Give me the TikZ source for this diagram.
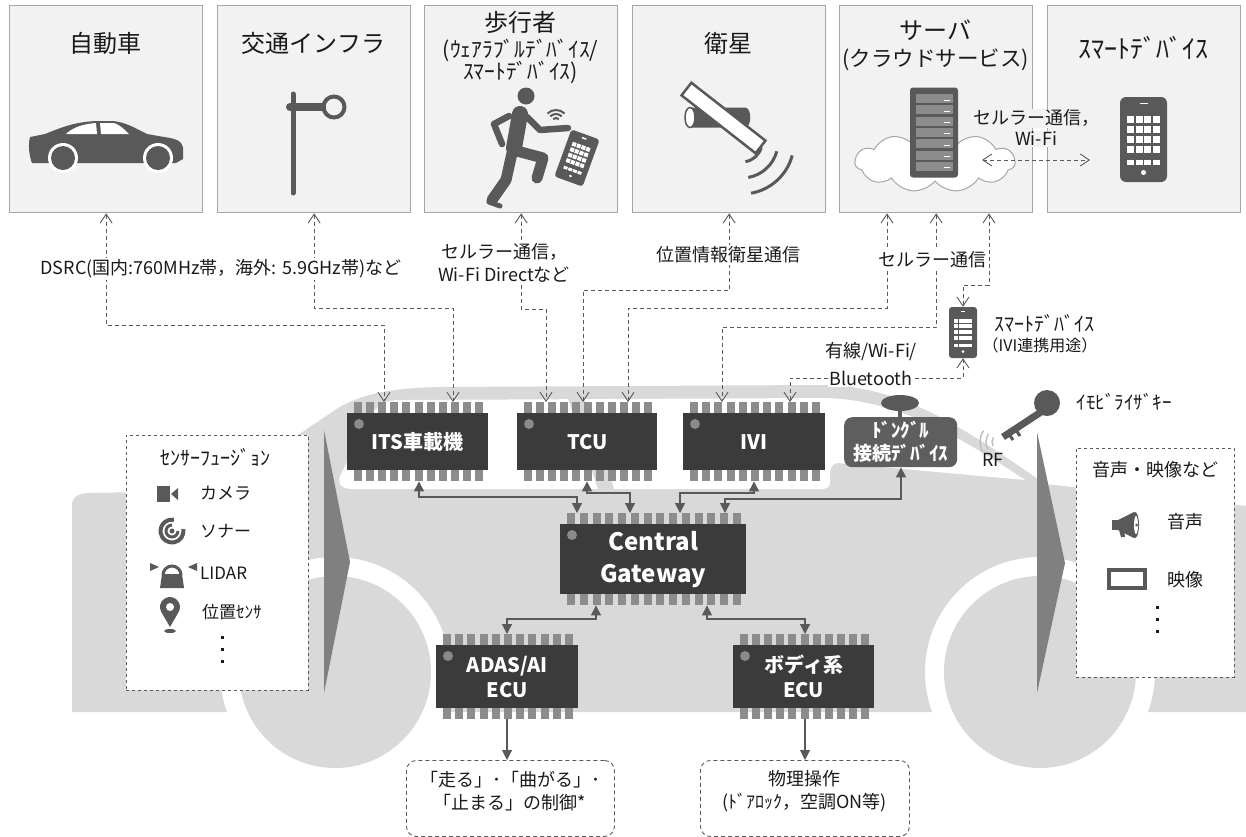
\documentclass[tikz,border=0pt]{standalone}
\usepackage{fontspec}
\setmainfont{Noto Sans CJK JP}
\usetikzlibrary{arrows.meta,shapes.symbols}
\definecolor{boxfill}{HTML}{F2F2F2}
\definecolor{boxline}{HTML}{A6A6A6}
\definecolor{txt}{HTML}{1A1A1A}
\definecolor{icon}{HTML}{595959}
\definecolor{conn}{HTML}{595959}
\definecolor{carbg}{HTML}{D9D9D9}
\definecolor{wedge}{HTML}{808080}
\definecolor{chipc}{HTML}{3B3B3B}
\definecolor{pinc}{HTML}{8C8C8C}
\definecolor{dotc}{HTML}{8A8A8A}
\definecolor{dongc}{HTML}{5E5E5E}
\definecolor{rfc}{HTML}{BFBFBF}

% chip: name, left, top of body, width, height, pins per side, label, extra options
\newcommand\mychip[8]{%
  \pgfmathsetmacro\pinstep{(#4-20)/(#6-1)}%
  \pgfmathtruncatemacro\lastpin{#6-1}%
  \foreach \i in {0,...,\lastpin}{%
    \fill[pinc] ({#2+7+\i*\pinstep},{#3-11}) rectangle ++(8,11);
    \fill[pinc] ({#2+7+\i*\pinstep},{#3+#5}) rectangle ++(8,11);
  }%
  \node[chipbody, minimum width=#4pt, minimum height=#5pt, anchor=north west, #8] (#1) at (#2,#3) {#7};
  \fill[dotc] ({#2+12},{#3+11}) circle (5);
  \node[inner sep=0pt, minimum width=#4pt, minimum height={#5pt+22pt}, anchor=north west] (#1p) at (#2,{#3-11}) {};
}

% phone key pad around the current origin
\newcommand\keypad{%
  \foreach \kx in {-12.75,-4.25,4.25,12.75}{%
    \foreach \ky in {-24,-14,-4,6}{\fill[white] (\kx-3.5,\ky) rectangle ++(7,7);}
    \fill[white] (\kx-3.5,20) rectangle ++(7,5);
  }
  \fill[white] (0,33) circle (2.5);
  \draw[white,line width=1.5pt] (-4,-36) -- (4,-36);
}

\begin{document}
\begin{tikzpicture}[x=1pt,y=-1pt,
  topbox/.style={draw=boxline, fill=boxfill, line width=1.3pt, minimum width=193pt, minimum height=207pt, inner sep=0pt, anchor=north west},
  ttl/.style={font=\fontsize{24}{28}\selectfont, text=txt, inner sep=0pt},
  sub/.style={font=\fontsize{21.5}{22}\selectfont, text=txt, inner sep=0pt},
  lbl/.style={font=\fontsize{18}{20}\selectfont, text=txt, inner sep=1.5pt, fill=white, align=center},
  item/.style={font=\fontsize{17}{20}\selectfont, text=txt, inner sep=0pt, anchor=west},
  dcon/.style={draw=conn, line width=0.9pt, dash pattern=on 4pt off 3pt,
    {Straight Barb[length=9pt,width=12pt]}-{Straight Barb[length=9pt,width=12pt]}},
  scon/.style={draw=conn, line width=1.2pt, {Triangle[length=10pt,width=10pt]}-{Triangle[length=10pt,width=10pt]}},
  sout/.style={draw=conn, line width=1.1pt, -{Triangle[length=10pt,width=10pt]}},
  chipbody/.style={fill=chipc, inner sep=0pt, text=white, font=\bfseries\fontsize{20}{25}\selectfont, align=center},
  dbox/.style={draw=conn, dashed, fill=white, line width=0.9pt, inner sep=0pt, anchor=north west},
  outbox/.style={draw=conn, dash pattern=on 4pt off 3pt, rounded corners=10pt, fill=white, line width=0.9pt, inner sep=0pt, anchor=north west},
  outtxt/.style={font=\fontsize{18}{23}\selectfont, text=txt, inner sep=0pt, align=center}
]
\useasboundingbox (0,0) rectangle (1246,836);
\fill[white] (0,0) rectangle (1246,836);

% ---------- car silhouette in the background ----------
\fill[carbg] (72,712) -- (72,506) .. controls (72,497) and (78,493) .. (90,493) -- (190,491)
  .. controls (240,478) and (290,440) .. (335,410) .. controls (360,394) and (390,388) .. (440,387)
  -- (820,385) .. controls (900,385) and (960,425) .. (1045,484) -- (1246,506) -- (1246,712) -- cycle;
\fill[white] (352,489) .. controls (340,489) and (336,482) .. (342,472) -- (368,420)
  .. controls (376,405) and (386,400) .. (400,400) -- (820,398) .. controls (890,398) and (950,430) .. (1025,480)
  -- (838,463) .. controls (832,463) and (830,468) .. (830,474) -- (830,482)
  .. controls (830,487) and (827,489) .. (822,489) -- cycle;
\fill[carbg] (598,489) -- (614,489) -- (584,399) -- (568,399) -- cycle;
\fill[white] (335,672) circle (115);
\fill[carbg] (335,672) circle (96);
\fill[white] (1040,672) circle (115);
\fill[carbg] (1040,672) circle (96);

% ---------- top row of boxes ----------
\node[topbox] (b1) at (9,5) {};
\node[topbox] (b2) at (217,5) {};
\node[topbox] (b3) at (424,5) {};
\node[topbox] (b4) at (632,5) {};
\node[topbox] (b5) at (839,5) {};
\node[topbox] (b6) at (1047,5) {};

\node[ttl] (t1) at (105.5,43) {自動車};
\node[ttl] (t2) at (313.5,43) {交通インフラ};
\node[ttl] (t3) at (520.5,22) {歩行者};
\node[sub] (t3a) at (520.5,50) {(ｳｪｱﾗﾌﾞﾙﾃﾞﾊﾞｲｽ/};
\node[sub] (t3b) at (520.5,72) {ｽﾏｰﾄﾃﾞﾊﾞｲｽ)};
\node[ttl] (t4) at (728.5,43) {衛星};
\node[ttl] (t5) at (935.5,30) {サーバ};
\node[sub] (t5a) at (935.5,60) {(クラウドサービス)};
\node[ttl, font=\fontsize{26}{28}\selectfont] (t6) at (1143.5,48) {ｽﾏｰﾄﾃﾞﾊﾞｲｽ};

% sedan
\fill[icon] (30,137) -- (45,134) .. controls (60,128) and (76,121) .. (100,121) -- (113,121)
  .. controls (125,122) and (135,128) .. (147,134) -- (170,138) .. controls (182,140) and (184,146) .. (183,152)
  -- (183,159) -- (176,163) -- (32,163) .. controls (29,155) and (28,145) .. (30,137) -- cycle;
\fill[white] (66,134) .. controls (72,128) and (82,124) .. (96,123) -- (97,134) -- cycle;
\fill[white] (100,123) -- (114,123) .. controls (120,125) and (124,129) .. (129,134) -- (101,134) -- cycle;
\fill[white] (63,158) circle (15);
\fill[white] (158,158) circle (15);
\fill[icon] (63,158) circle (12);
\fill[icon] (158,158) circle (12);

% road sign post
\draw[icon, line width=5pt, line cap=round] (293,94) -- (293,193);
\draw[icon, line width=8pt, line cap=round] (290,107) -- (322,107);
\draw[icon, line width=4pt] (334,107) circle (10.5);

% runner with phone
\fill[icon] (526,96) circle (8.5);
\draw[icon, line width=16pt, line cap=round] (520,114) -- (514,148);
\draw[icon, line width=6.5pt, line cap=round, line join=round] (509,116) -- (494,124) -- (502,144);
\draw[icon, line width=6.5pt, line cap=round, line join=round] (527,117) -- (540,130) -- (568,128);
\draw[icon, line width=11pt, line cap=round, line join=round] (517,151) -- (543,158) -- (537,178);
\draw[icon, line width=11pt, line cap=round, line join=round] (512,153) -- (506,180) -- (492,200);
\draw[icon, line width=5pt, line cap=round] (489,202) -- (500,206);
\foreach \r in {4,8,12}
  \draw[icon, line width=2pt] (556,122) ++(225:\r) arc[start angle=225, end angle=315, radius=\r];
\begin{scope}[shift={(577,158)}, rotate=-20]
  \fill[icon, rounded corners=3pt] (-15,-25) rectangle (15,25);
  \begin{scope}[scale=0.58]\keypad\end{scope}
\end{scope}

% satellite
\fill[icon] (690,107.5) -- (745,107.5) .. controls (752,107.5) and (752,127.5) .. (745,127.5) -- (690,127.5) -- cycle;
\draw[icon, fill=white, line width=1.5pt] (690,117.5) ellipse (5 and 10);
\begin{scope}[shift={(723.5,118)}, rotate=-38]
  \draw[icon, fill=white, line width=2.5pt] (-47,-8) rectangle (47,8);
\end{scope}
\foreach \r in {20,36,52}
  \draw[icon, line width=3pt] (742,142) ++(15:\r) arc[start angle=15, end angle=80, radius=\r];

% cloud and server rack
\node[cloud, cloud puffs=11, cloud puff arc=110, aspect=2.6, draw=boxline, fill=white, line width=1pt,
  minimum width=160pt, minimum height=60pt] (cloud) at (935,162) {};
\node[fill=icon, rounded corners=3pt, minimum width=48pt, minimum height=90pt, inner sep=0pt] (srv) at (934,132.5) {};
\foreach \k in {0,...,6}{
  \fill[pinc] (916,{94+\k*11.3}) rectangle (953,{103+\k*11.3});
  \draw[white, line width=1pt] (944,{100+\k*11.3}) -- (950,{100+\k*11.3});
}

% smart device
\node[fill=icon, rounded corners=6pt, minimum width=47pt, minimum height=85pt, inner sep=0pt] (phone1) at (1143.5,139.5) {};
\begin{scope}[shift={(phone1.center)}]\keypad\end{scope}

\coordinate (wa) at (982,160);
\coordinate (wb) at (1090,160);
\draw[dcon] (wa) -- (wb);
\node[font=\fontsize{18}{20}\selectfont, text=txt, fill=boxfill, inner sep=1pt] (wl1) at (1036,118) {セルラー通信，};
\node[font=\fontsize{18}{20}\selectfont, text=txt, fill=boxfill, inner sep=1pt] (wl2) at (1036,139) {Wi-Fi};

% ---------- side boxes and wedges ----------
\node[dbox, minimum width=182pt, minimum height=255pt] (sens) at (126,435) {};
\node[dbox, minimum width=158pt, minimum height=229pt] (media) at (1076,448) {};
\fill[wedge] (324,430) -- (350,562) -- (324,693) -- cycle;
\fill[wedge] (1037,432) -- (1065,563) -- (1037,693) -- cycle;

\node[font=\fontsize{20}{22}\selectfont, text=txt, inner sep=0pt] (senst) at (215,457) {ｾﾝｻｰﾌｭｰｼﾞｮﾝ};
\node[item] (s1) at (200,493) {カメラ};
\node[item] (s2) at (200,531) {ソナー};
\node[item] (s3) at (200,573) {LIDAR};
\node[item] (s4) at (202,612) {位置ｾﾝｻ};
\foreach \yy in {637,649,661} \fill[txt] (220.5,\yy-1.5) rectangle ++(3,3);
% camera
\fill[icon] (157,486) rectangle (170,502);
\fill[icon] (171,494) -- (178,488) -- (178,500) -- cycle;
% sonar
\draw[icon, line width=4pt] (172,531) ++(-10:11.5) arc[start angle=-10, end angle=280, radius=11.5];
\draw[icon, line width=3pt] (172,531) ++(0:6) arc[start angle=0, end angle=270, radius=6];
\fill[icon] (172,531) circle (2.5);
% lidar
\draw[icon, line width=3pt] (163,575) arc[start angle=180, end angle=360, radius=9];
\fill[icon] (162,574) -- (182,574) -- (184,588) -- (160,588) -- cycle;
\fill[icon] (150,563) -- (159,567) -- (150,571) -- cycle;
\fill[icon] (197,563) -- (188,567) -- (197,571) -- cycle;
% location pin
\fill[icon] (170,627) -- (161.3,612) arc[start angle=150, end angle=390, radius=10] -- cycle;
\fill[white] (170,607) circle (4);
\fill[icon] (170,631) ellipse (6 and 2);

\node[font=\fontsize{18}{21}\selectfont, text=txt, inner sep=0pt] (mediat) at (1155,470) {音声・映像など};
\node[font=\fontsize{18}{21}\selectfont, text=txt, inner sep=0pt] (m1) at (1185,522) {音声};
\node[font=\fontsize{18}{21}\selectfont, text=txt, inner sep=0pt] (m2) at (1185,580) {映像};
\foreach \yy in {607,619,631} \fill[txt] (1155.5,\yy-1.5) rectangle ++(3,3);
% megaphone
\fill[icon] (1112,520) rectangle (1118,530);
\fill[icon] (1118,520) -- (1134,512) -- (1134,538) -- (1118,530) -- cycle;
\fill[icon] (1135,525) ellipse (4 and 13);
\fill[white] (1136,525) ellipse (2 and 9);
\fill[icon] (1136.5,525) circle (1.5);
\fill[icon] (1119,530) -- (1124,530) -- (1125,537) -- (1121,537) -- cycle;
% screen
\draw[icon, line width=3.5pt, fill=white] (1109,570) rectangle (1145,588);

% ---------- chips ----------
\mychip{its}{347}{413}{141}{57}{11}{ITS車載機}{}
\mychip{tcu}{517}{413}{140}{57}{11}{TCU}{}
\mychip{ivi}{683}{413}{142}{57}{11}{IVI}{}
\mychip{cgw}{560}{524}{186}{70}{14}{Central\\Gateway}{font=\bfseries\fontsize{24}{32}\selectfont}
\mychip{adas}{436}{645}{142}{63}{11}{ADAS/AI\\ECU}{}
\mychip{body}{733}{645}{141}{63}{11}{ボディ系\\ECU}{}

% dongle device
\fill[icon] (900,403) ellipse (19 and 8);
\fill[icon] (898,410) rectangle (902,418);
\node[fill=dongc, rounded corners=8pt, minimum width=113pt, minimum height=50pt, inner sep=0pt,
  anchor=north west, text=white, font=\bfseries\fontsize{19}{23}\selectfont, align=center] (dongle) at (844,417) {ﾄﾞﾝｸﾞﾙ\\接続ﾃﾞﾊﾞｲｽ};

% immobilizer key
\fill[icon] (1047,403) circle (13);
\draw[icon, line width=7pt] (1041,412) -- (1003,437);
\draw[icon, line width=3pt] (1016,430) -- (1020,436);
\draw[icon, line width=3pt] (1009,434) -- (1013,440);
\foreach \r in {8,14,20}
  \draw[rfc, line width=1.5pt] (1000,442) ++(150:\r) arc[start angle=150, end angle=215, radius=\r];
\node[font=\fontsize{18}{20}\selectfont, text=txt, inner sep=0pt] (rf) at (993,460) {RF};
\node[font=\fontsize{19}{21}\selectfont, text=txt, inner sep=0pt] (keyl) at (1124,402) {ｲﾓﾋﾞﾗｲｻﾞｷｰ};

% smart device for IVI
\node[fill=icon, rounded corners=3pt, minimum width=28pt, minimum height=51pt, inner sep=0pt] (phone2) at (963,332.5) {};
\begin{scope}[shift={(phone2.center)}, scale=0.58]\keypad\end{scope}
\node[font=\fontsize{20}{22}\selectfont, text=txt, inner sep=0pt] (p2l1) at (1044,323) {ｽﾏｰﾄﾃﾞﾊﾞｲｽ};
\node[font=\fontsize{16}{18}\selectfont, text=txt, inner sep=0pt] (p2l2) at (1040,345) {（IVI連携用途）};

% ---------- wireless links ----------
\draw[dcon] (b1.south) |- (384,325) -- (384,0 |- itsp.north);
\draw[dcon] (b2.south) |- (453,308) -- (453,0 |- itsp.north);
\draw[dcon] (b3.south) |- (546,309) -- (546,0 |- tcup.north);
\draw[dcon] (b4.south) |- (583,290) -- (583,0 |- tcup.north);
\draw[dcon] (887,0 |- b5.south) |- (628,308) -- (628,0 |- tcup.north);
\draw[dcon] (b5.south) |- (722,327) -- (722,0 |- ivip.north);
\draw[dcon] (989,0 |- b5.south) |- (963,285) -- (phone2.north);
\draw[dcon] (phone2.south) |- (790,378) -- (790,0 |- ivip.north);

\node[lbl] (l1) at (221,269) {DSRC(国内:760MHz帯，海外: 5.9GHz帯)など};
\node[lbl, font=\fontsize{18}{23}\selectfont] (l2) at (504,263) {セルラー通信，\\Wi-Fi Directなど};
\node[lbl] (l3) at (728,255) {位置情報衛星通信};
\node[lbl] (l4) at (932,260) {セルラー通信};
\node[lbl] (l5a) at (871,352) {有線/Wi-Fi/};
\node[lbl] (l5b) at (871,378) {Bluetooth};

% ---------- wired links ----------
\draw[scon] (419,0 |- itsp.south) |- (577,497) -- (577,0 |- cgwp.north);
\draw[scon] (587,0 |- tcup.south) |- (630,493) -- (630,0 |- cgwp.north);
\draw[scon] (754,0 |- ivip.south) |- (680,493) -- (680,0 |- cgwp.north);
\draw[scon] (901,0 |- dongle.south) |- (725,499) -- (725,0 |- cgwp.north);
\draw[scon] (596,0 |- cgwp.south) |- (507,619) -- (507,0 |- adasp.north);
\draw[scon] (707,0 |- cgwp.south) |- (805,619) -- (805,0 |- bodyp.north);

% ---------- outputs ----------
\node[outbox, minimum width=208pt, minimum height=76pt] (out1) at (406,760) {};
\node[outbox, minimum width=209pt, minimum height=76pt] (out2) at (700,760) {};
\node[outtxt] (o1) at (510,791) {「走る」･「曲がる」･\\「止まる」の制御*};
\node[outtxt] (o2) at (804.5,791) {物理操作\\(ﾄﾞｱﾛｯｸ，空調ON等)};
\draw[sout] (507,0 |- adasp.south) -- (507,0 |- out1.north);
\draw[sout] (805,0 |- bodyp.south) -- (805,0 |- out2.north);
\end{tikzpicture}
\end{document}
